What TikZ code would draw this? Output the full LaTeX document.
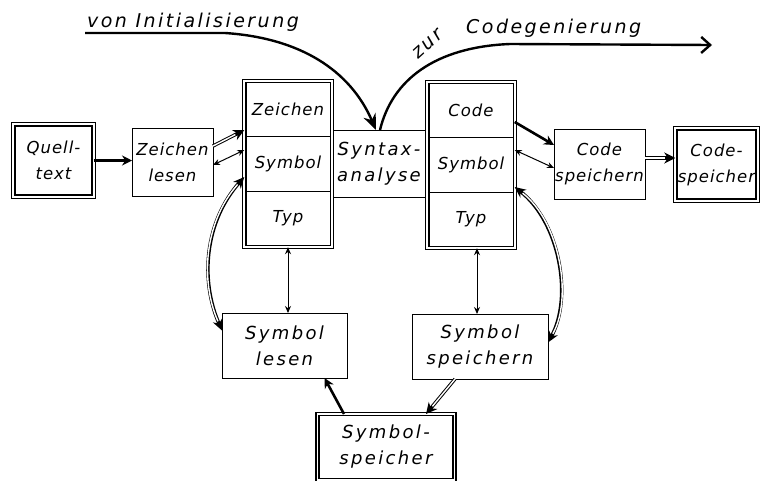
\documentclass[tikz,border=0pt]{standalone}
\usepackage{fontspec}
\setmainfont{DejaVu Sans}[LetterSpace=6]
\newfontfamily\wideface{DejaVu Sans}[LetterSpace=13]
\usetikzlibrary{arrows.meta}

\tikzset{
  box/.style={draw, line width=1pt, fill=white, align=center, inner sep=0pt, outer sep=0pt,
    font=\itshape\fontsize{16.5}{26}\selectfont},
  bigtext/.style={font=\wideface\itshape\fontsize{18}{26}\selectfont},
  dbox/.style={box, double, double distance=2pt, line width=0.9pt},
  qbox/.style={dbox, line width=1.4pt, double distance=1.8pt},
  cell/.style={box, line width=0.9pt, minimum width=84pt, minimum height=54.2pt},
  thinarr/.style={line width=1pt, {Stealth[length=7pt,width=6pt]}-{Stealth[length=7pt,width=6pt]}},
  thickarr/.style={line width=2.6pt, -{Stealth[length=10pt,width=10pt]}},
  hollowarr/.style={line width=3.4pt, -{Stealth[length=11pt,width=11pt]},
    postaction={draw=white, line width=1.4pt, shorten >=10pt, -}},
  curvearr/.style={line width=3.4pt, {Stealth[length=11pt,width=10pt]}-{Stealth[length=11pt,width=10pt]},
    postaction={draw=white, line width=1.4pt, shorten >=10pt, shorten <=10pt, -}},
  toplabel/.style={font=\wideface\itshape\fontsize{19}{23}\selectfont, inner sep=0pt}
}

\begin{document}
\begin{tikzpicture}[x=1pt,y=-1pt]
\useasboundingbox (0,0) rectangle (760,480);

\node[box, bigtext, minimum width=96pt, minimum height=67pt] (syn) at (379,163.5) {Syntax-\\analyse};

\node[qbox, minimum width=80.4pt, minimum height=72.4pt] (quell) at (53.5,160.5) {Quell-\\text};
\node[box, minimum width=81pt, minimum height=68pt] (zlesen) at (172.5,162) {Zeichen\\lesen};

\node[dbox, minimum width=87.4pt, minimum height=166.4pt] (lstack) at (288,164) {};
\node[cell] (lzei) at (288,109.8) {Zeichen};
\node[cell] (lsym) at (288,164) {Symbol};
\node[cell] (ltyp) at (288,218.2) {Typ};

\node[dbox, minimum width=87.4pt, minimum height=166.4pt] (rstack) at (471,165) {};
\node[cell] (rcode) at (471,110.8) {Code};
\node[cell] (rsym) at (471,165) {Symbol};
\node[cell] (rtyp) at (471,219.2) {Typ};

\node[box, minimum width=91pt, minimum height=70pt] (cspeich) at (599.5,164) {Code\\speichern};
\node[qbox, minimum width=82.4pt, minimum height=72.4pt] (codesp) at (716.5,164.5) {Code-\\speicher};

\node[box, bigtext, minimum width=125pt, minimum height=65pt] (slesen) at (284.5,345.5) {Symbol\\lesen};
\node[box, bigtext, minimum width=136pt, minimum height=65pt] (sspeich) at (480,346.5) {Symbol\\speichern};
\node[qbox, bigtext, minimum width=137pt, minimum height=66pt] (symsp) at (386,447) {Symbol-\\speicher};

\draw[thickarr] (quell.east) -- (quell.east -| zlesen.west);
\draw[hollowarr] ([yshift=16pt]zlesen.east) -- ([yshift=34pt]lstack.west);
\draw[thinarr] ([yshift=-3pt]zlesen.east) -- ([yshift=14pt]lstack.west);
\draw[curvearr] ([yshift=-13pt]lstack.west) .. controls +(-40,45) and +(-22,-50) .. ([yshift=15pt]slesen.west);
\draw[thinarr] (lstack.south) -- (lstack.south |- slesen.north);
\draw[thinarr] ([xshift=6pt]rstack.south) -- ([xshift=6pt]rstack.south |- sspeich.north);
\draw[curvearr] ([yshift=-22pt]rstack.east) .. controls +(45,35) and +(25,-45) .. ([yshift=4pt]sspeich.east);
\draw[thickarr] ([yshift=43pt]rstack.east) -- ([yshift=19pt]cspeich.west);
\draw[thinarr] ([yshift=15pt]rstack.east) -- ([yshift=-4pt]cspeich.west);
\draw[hollowarr] ([yshift=6pt]cspeich.east) -- ([yshift=6pt]cspeich.east -| codesp.west);
\draw[hollowarr] ([xshift=-25pt]sspeich.south) -- ([xshift=40pt]symsp.north);
\draw[thickarr] ([xshift=-42pt]symsp.north) -- ([xshift=40pt]slesen.south);

\coordinate (vonstart) at (85,33);
\coordinate (zurend) at (712,45);
\draw[line width=2.4pt, -{Stealth[length=16pt,width=13pt]}] (vonstart) -- (225,33)
  .. controls (300,38) and (350,70) .. ([xshift=-3pt]syn.north);
\draw[line width=2.4pt, -{Straight Barb[length=9pt,width=16pt]}] ([xshift=1pt]syn.north)
  .. controls (392,80) and (435,47) .. (510,44) -- (zurend);

\node[toplabel, anchor=base west] (von) at (87,27) {von Initialisierung};
\node[toplabel, anchor=base west, rotate=42] (zur) at (418,60) {zur};
\node[toplabel, anchor=base west] (codegen) at (466,33) {Codegenierung};
\end{tikzpicture}
\end{document}
